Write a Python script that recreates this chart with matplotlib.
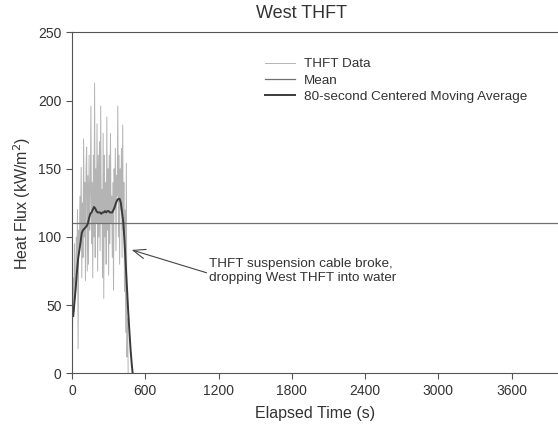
import matplotlib
matplotlib.use("Agg")
import matplotlib.pyplot as plt
import numpy as np

plt.rcParams['font.family'] = ['Liberation Sans', 'DejaVu Sans']

# raw THFT data, 5 s samples
t_raw = np.arange(0, 465, 5)
flux_raw = [60, 35, 70, 45, 95, 55, 60, 100, 75, 120,
            18, 105, 90, 130, 95, 151, 70, 125, 85, 172,
            100, 140, 68, 150, 166, 75, 145, 80, 160, 105,
            135, 196, 95, 140, 70, 160, 100, 213, 85, 150,
            110, 183, 75, 160, 100, 170, 90, 196, 110, 135,
            70, 176, 55, 160, 100, 140, 80, 188, 105, 150,
            72, 160, 95, 176, 110, 130, 85, 140, 61, 150,
            120, 165, 90, 145, 130, 196, 100, 160, 80, 150,
            120, 165, 85, 182, 105, 140, 60, 120, 30, 154,
            12, 40, 0]

# 80-second centered moving average
t_avg = [10, 20, 30, 40, 50, 60, 70, 80, 90, 100,
         110, 120, 130, 140, 150, 160, 170, 180, 190, 200,
         210, 220, 230, 240, 250, 260, 270, 280, 290, 300,
         310, 320, 330, 340, 350, 360, 370, 380, 390, 400,
         410, 420, 430, 440, 450, 460, 470, 480, 490, 497]
flux_avg = [42, 52, 62, 74, 84, 90, 96, 103, 105, 106,
            107, 108, 110, 114, 117, 118, 120, 122, 121, 119,
            118, 118, 118, 117, 118, 118, 119, 118, 119, 119,
            118, 118, 118, 120, 122, 125, 127, 128, 128, 125,
            118, 111, 97, 80, 63, 46, 31, 17, 6, 0]

mean_flux = 110.5

fig = plt.figure(figsize=(5.58, 4.36), dpi=100)
ax = fig.add_axes([72/558, 1-373.3/436, 1-72/558, (373.3-32.5)/436])

ax.plot(t_raw, flux_raw, color='#b4b4b4', lw=0.7, label='THFT Data')
ax.axhline(mean_flux, color='#707070', lw=0.9, label='Mean')
ax.plot(t_avg, flux_avg, color='#3a3a3a', lw=1.4, label='80-second Centered Moving Average')

ax.set_xlim(0, 3980)
ax.set_ylim(0, 250)
ax.set_xticks(np.arange(0, 3601, 600))
ax.set_yticks(np.arange(0, 251, 50))
ax.tick_params(direction='out', length=4, width=0.8, colors='#555555',
               labelcolor='#333333', labelsize=10)
for s in ['left', 'bottom', 'top']:
    ax.spines[s].set_color('#555555')
    ax.spines[s].set_linewidth(0.8)
ax.spines['right'].set_visible(False)

ax.set_xlabel('Elapsed Time (s)', fontsize=11.5, color='#333333', labelpad=6)
ax.set_ylabel('Heat Flux (kW/m$^2$)', fontsize=11.5, color='#333333', labelpad=4)
fig.text(301/558, 1-14/436, 'West THFT', fontsize=13, color='#333333',
         ha='center', va='center')

ax.annotate('THFT suspension cable broke,\ndropping West THFT into water',
            xy=(489, 90.5), xytext=(1125, 75), fontsize=9.7, color='#333333',
            ha='left', va='center', multialignment='left',
            arrowprops=dict(arrowstyle='->,head_length=0.9,head_width=0.35',
                            color='#444444', lw=0.8, shrinkA=0, shrinkB=0,
                            relpos=(0, 0.4)))

ax.legend(loc='upper left', bbox_to_anchor=(265/558, 1-58/436),
          bbox_transform=fig.transFigure, frameon=False, fontsize=9.7,
          handlelength=2.2, handletextpad=0.7, labelspacing=0.28,
          borderpad=0, borderaxespad=0, labelcolor='#333333')

fig.savefig('out.png', dpi=100)
